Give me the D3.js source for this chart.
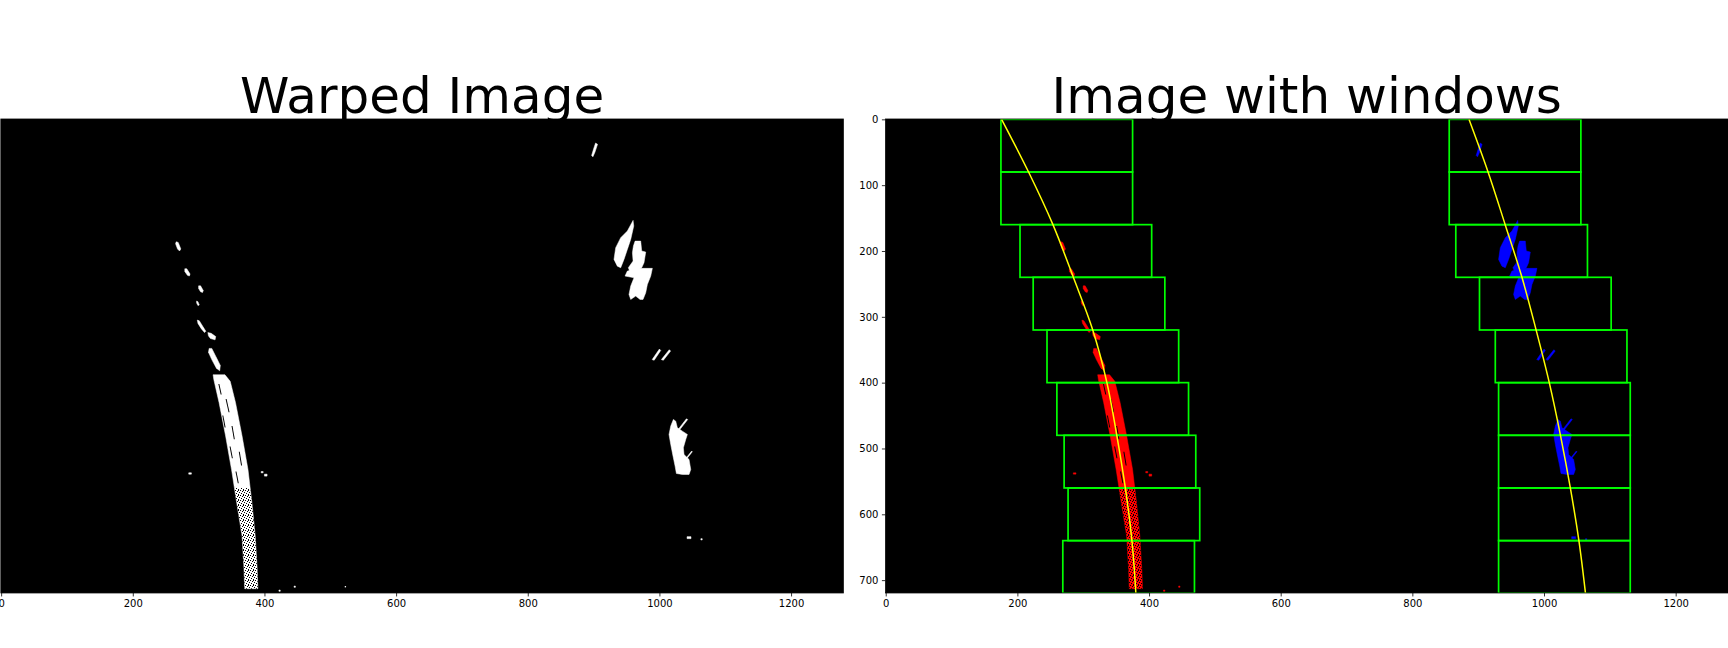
<!DOCTYPE html>
<html>
<head>
<meta charset="utf-8">
<script src="https://cdn.jsdelivr.net/npm/d3@7"></script>
<style>
  body { margin: 0; background: #fff; }
  text { font-family: 'DejaVu Sans', sans-serif; }
</style>
</head>
<body>
<svg id="svg"></svg>
<script>
// image size in pixels (data units of both panels)
const imgWidth = 1280;
const imgHeight = 720;

const xTicks = [0, 200, 400, 600, 800, 1000, 1200];
const yTicks = [0, 100, 200, 300, 400, 500, 600, 700];
const titles = ['Warped Image', 'Image with windows'];

// sliding windows, top row first
const windowTop = [0, 80, 160, 240, 320, 400, 480, 560, 640];
const windowHeight = 80;
const windowWidth = 200;
const leftWindowX = [175, 175, 204, 224, 245, 260, 271, 277, 269];
const rightWindowX = [856, 856, 866, 902, 926, 931, 931, 931, 931];

// fitted lane lines
const fitY = [0, 80, 160, 240, 320, 400, 480, 560, 640, 720];
const leftFitX = [176, 217, 254, 285, 314.5, 336, 351, 364, 374, 380];
const rightFitX = [886, 915, 941, 966.5, 988, 1008, 1025, 1040, 1053, 1063];

// lane pixel blobs, polygons in image coords [x, y]
const leftLaneBlobs = [
  [[266,186],[269,187],[273,197],[271,200],[268,197],[265,189]],
  [[279,227],[282,227],[287,235],[286,238],[283,237],[279,231]],
  [[300,253],[303,253],[307,260],[306,263],[303,262],[300,257]],
  [[297,276],[299,277],[301,282],[299,283],[297,279]],
  [[298,305],[301,306],[306,314],[311,322],[309,324],[304,318],[299,310]],
  [[314,324],[319,325],[326,330],[325,335],[318,333],[315,329]],
  [[316,348],[320,348],[326,360],[333,374],[332,382],[327,378],[320,365],[315,354]],
  [[322,388],[323,395],[331,430],[341,481],[350,532],[358,583],[366,633],[369,684],[370,713],
   [390,713],[389,684],[386,633],[381,583],[375,532],[366,481],[356,430],[348,398],[340,388]],
  [[285,537],[289,537],[289,539],[285,539]],
  [[395,535],[398,535],[398,537],[395,537]],
  [[400,539],[404,539],[404,542],[400,542]],
  [[422,715],[424,715],[424,717],[422,717]],
  [[445,709],[447,709],[447,711],[445,711]]
];

const rightLaneBlobs = [
  [[903,36],[906,38],[902,50],[899,57],[897,55],[900,45]],
  [[960,153.5],[961,162],[956.4,182.4],[951.3,197.6],[946.2,212.8],[941.2,225.4],[936.1,223],
   [931,212.8],[933.6,195],[941.2,179.8],[951.3,169.7]],
  [[963,185],[971.6,185],[973.1,200],[979.2,201.6],[976.6,217.8],[973.1,225.4],[964,230.5],
   [954.8,230.5],[952.8,225.4],[960,215.3],[959,202.6],[960.5,192.5]],
  [[969,226.4],[989.3,226.4],[986.8,238.1],[981.7,250.8],[979.2,263.4],[975.1,273.6],[970.6,273.6],
   [964,268.5],[956.4,273.6],[953.8,266],[956.4,253.3],[961.4,240.6],[947.8,238.1],[951.3,230.5]],
  [[1000,349],[1002,351],[992,366],[989,365]],
  [[1015,350],[1017,352],[1006,366],[1003,365]],
  [[1021.2,455.9],[1024.8,458.5],[1027.3,468.6],[1034.9,473.7],[1042.5,478.7],[1040,486.3],
   [1036.4,499],[1037.4,509.1],[1045,516.7],[1047.6,531.9],[1045,539.5],[1034.9,539.5],
   [1025.8,538],[1023.8,526.8],[1020.7,511.7],[1017.2,493.9],[1014.6,478.7],[1017.2,466]],
  [[1041,455],[1043,456],[1029,474],[1027,473]],
  [[1049,504],[1050,505],[1038,520],[1037,519]],
  [[1042,634],[1048,634],[1048,637],[1042,637]],
  [[1063,637],[1065,637],[1065,639],[1063,639]]
];

// pixels outside every window (only in the warped image)
const strayBlobs = [
  [[522,709],[524,709],[524,711],[522,711]]
];

// dark slits inside the left lane band
const laneGaps = [
  [[330,402],[331.5,402],[335,418],[333.5,418]],
  [[341,425],[342.5,425],[347,445],[345.5,445]],
  [[336,450],[337.5,450],[341,468],[339.5,468]],
  [[350,466],[351.5,466],[355,486],[353.5,486]],
  [[347,497],[348.5,497],[352,515],[350.5,515]],
  [[361,505],[362.5,505],[366,526],[364.5,526]],
  [[356,535],[357.5,535],[361,553],[359.5,553]]
];

// lower part of the band that is speckled
const speckleBand = [[354,560],[358,583],[366,633],[369,684],[370,713],
  [390,713],[389,684],[386,633],[381,583],[378,560]];

// LAYOUT
const svgWidth = 1728;
const svgHeight = 648;
const panelTop = 119;
const panelWidth = 842.6;
const panelHeight = panelWidth * imgHeight / imgWidth;
const panelLefts = [0.8, 885.4];

const svg = d3.select('#svg')
  .attr('width', svgWidth)
  .attr('height', svgHeight)
  .style('display', 'block');

svg.append('rect')
  .attr('width', svgWidth)
  .attr('height', svgHeight)
  .attr('fill', '#fff');

const defs = svg.append('defs');

// speckle texture
const speckle = defs.append('pattern')
  .attr('id', 'speckle')
  .attr('patternUnits', 'userSpaceOnUse')
  .attr('width', 5)
  .attr('height', 5);
[[0,0],[2,1],[4,2],[1,3],[3,4],[3,0]].forEach(p => {
  speckle.append('rect').attr('x', p[0]).attr('y', p[1]).attr('width', 1).attr('height', 1).attr('fill', '#000');
});

function drawPanel(i) {
  const left = panelLefts[i];
  const withWindows = i === 1;

  const x = d3.scaleLinear().domain([-0.5, imgWidth - 0.5]).range([left, left + panelWidth]);
  const y = d3.scaleLinear().domain([-0.5, imgHeight - 0.5]).range([panelTop, panelTop + panelHeight]);

  const poly = d3.line().x(d => x(d[0])).y(d => y(d[1]));

  // TITLE (drawn first so the image covers the descenders)
  svg.append('text')
    .attr('x', left + panelWidth / 2)
    .attr('y', 112.5)
    .attr('text-anchor', 'middle')
    .attr('font-size', '50px')
    .attr('fill', '#000')
    .text(titles[i]);

  defs.append('clipPath')
    .attr('id', 'clip' + i)
    .append('rect')
    .attr('x', left)
    .attr('y', panelTop)
    .attr('width', panelWidth)
    .attr('height', panelHeight);

  const g = svg.append('g').attr('clip-path', `url(#clip${i})`);

  g.append('rect')
    .attr('x', left)
    .attr('y', panelTop)
    .attr('width', panelWidth)
    .attr('height', panelHeight)
    .attr('fill', '#000');

  const leftColour = withWindows ? '#ff0000' : '#ffffff';
  const rightColour = withWindows ? '#0000ff' : '#ffffff';

  // BLOBS
  g.selectAll('.lblob' + i)
    .data(leftLaneBlobs)
    .enter()
    .append('path')
    .attr('d', d => poly(d) + 'Z')
    .attr('fill', leftColour)
    .attr('stroke', leftColour)
    .attr('stroke-width', 0.5);

  g.selectAll('.rblob' + i)
    .data(rightLaneBlobs)
    .enter()
    .append('path')
    .attr('d', d => poly(d) + 'Z')
    .attr('fill', rightColour)
    .attr('stroke', rightColour)
    .attr('stroke-width', 0.5);

  if (!withWindows) {
    g.selectAll('.sblob')
      .data(strayBlobs)
      .enter()
      .append('path')
      .attr('d', d => poly(d) + 'Z')
      .attr('fill', '#fff');
  }

  g.selectAll('.gap' + i)
    .data(laneGaps)
    .enter()
    .append('path')
    .attr('d', d => poly(d) + 'Z')
    .attr('fill', '#000');

  g.append('path')
    .attr('d', poly(speckleBand) + 'Z')
    .attr('fill', 'url(#speckle)');

  if (withWindows) {
    // WINDOWS
    [leftWindowX, rightWindowX].forEach(xs => {
      g.selectAll(null)
        .data(windowTop)
        .enter()
        .append('rect')
        .attr('x', (d, j) => x(xs[j]))
        .attr('y', d => y(d))
        .attr('width', x(windowWidth) - x(0))
        .attr('height', y(windowHeight) - y(0))
        .attr('fill', 'none')
        .attr('stroke', '#00ff00')
        .attr('stroke-width', 1.7);
    });

    // FIT LINES
    const fitLine = d3.line()
      .x(d => x(d[0]))
      .y(d => y(d[1]))
      .curve(d3.curveCatmullRom);

    [leftFitX, rightFitX].forEach(xs => {
      g.append('path')
        .attr('d', fitLine(xs.map((v, j) => [v, fitY[j]])))
        .attr('fill', 'none')
        .attr('stroke', '#ffff00')
        .attr('stroke-width', 1.5);
    });
  }

  // spines
  svg.append('rect')
    .attr('x', left)
    .attr('y', panelTop)
    .attr('width', panelWidth)
    .attr('height', panelHeight)
    .attr('fill', 'none')
    .attr('stroke', '#000')
    .attr('stroke-width', 0.8);

  // X AXIS
  const axes = [];
  axes.push(svg.append('g')
    .attr('transform', `translate(0, ${panelTop + panelHeight})`)
    .call(d3.axisBottom(x).tickValues(xTicks).tickSize(3.5).tickPadding(3.5).tickFormat(d3.format('d'))));

  // Y AXIS (the warped image's y labels fall off the page, as in the original)
  if (withWindows) {
    axes.push(svg.append('g')
      .attr('transform', `translate(${left}, 0)`)
      .call(d3.axisLeft(y).tickValues(yTicks).tickSize(3.5).tickPadding(3.5).tickFormat(d3.format('d'))));
  }

  axes.forEach(a => {
    a.select('.domain').remove();
    a.selectAll('line').attr('stroke', '#000').attr('stroke-width', 0.8);
    a.selectAll('text')
      .attr('font-size', '10px')
      .attr('font-family', "'DejaVu Sans', sans-serif")
      .attr('fill', '#000');
  });
}

drawPanel(0);
drawPanel(1);
</script>
</body>
</html>
